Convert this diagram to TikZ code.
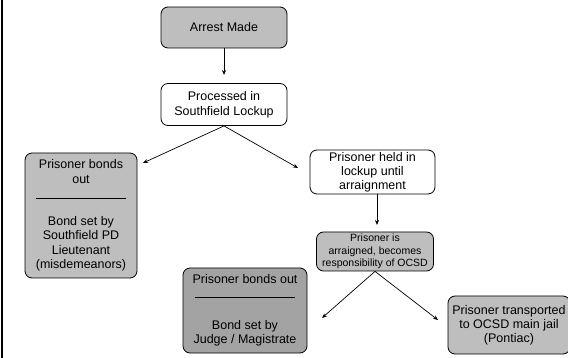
\documentclass[tikz,border=0pt]{standalone}
\usepackage{fontspec}
\setmainfont{Liberation Sans}
\usepackage{tikz}
\usetikzlibrary{arrows.meta}
\definecolor{lightfill}{HTML}{BEBEBE}
\definecolor{darkfill}{HTML}{A3A3A3}

\begin{document}
\begin{tikzpicture}[x=1pt, y=-1pt, >={Stealth[length=5pt,width=4pt]},
  box/.style={draw=black, line width=0.8pt, rounded corners=7pt, fill=white, align=center,
    inner sep=0pt, font=\fontsize{12.5}{14.5}\selectfont},
  greybox/.style={box, fill=lightfill},
  link/.style={->, line width=0.7pt}]
\useasboundingbox (0,0) rectangle (568,358);
\clip (0,0) rectangle (568,358);

% page edge
\draw[line width=1.2pt] (2,0) -- (2,358);

\coordinate (tipProc)  at (224,75);
\coordinate (tipPD)    at (143,163);
\coordinate (tipLock)  at (298,168);
\coordinate (tipArr)   at (377,225);
\coordinate (tipJudge) at (322,318);
\coordinate (tipJail)  at (438,320);

\node[greybox, minimum width=126pt, minimum height=41pt] (arrest) at (224,27.5) {Arrest Made};
\node[box, minimum width=126pt, minimum height=42pt, font=\fontsize{12.5}{15}\selectfont] (processed) at (224,104.5)
  {Processed in\\Southfield Lockup};

\node[greybox, minimum width=112pt, minimum height=125pt] (bondpd) at (81,215.5)
  {Prisoner bonds\\out\\[4pt]\rule[3pt]{90pt}{0.7pt}\\[9pt]Bond set by\\Southfield PD\\Lieutenant\\(misdemeanors)};

\node[box, minimum width=125pt, minimum height=44pt, font=\fontsize{12.5}{14}\selectfont] (lockup) at (372.5,172)
  {Prisoner held in\\lockup until\\arraignment};

\node[greybox, minimum width=117pt, minimum height=39pt, font=\fontsize{10.5}{12.5}\selectfont] (arraigned) at (375,251.5)
  {Prisoner is\\arraigned, becomes\\responsibility of OCSD};

\node[box, fill=darkfill, minimum width=124pt, minimum height=85pt] (bondjudge) at (245,310.5)
  {Prisoner bonds out\\[2pt]\rule[3pt]{100pt}{0.7pt}\\[14.5pt]Bond set by\\Judge / Magistrate};

\node[greybox, minimum width=122pt, minimum height=58pt, font=\fontsize{12.5}{14}\selectfont] (jail) at (509,325)
  {Prisoner transported\\to OCSD main jail\\(Pontiac)};

\draw[link] (arrest) -- (tipProc);
\draw[link] (processed.south) -- (tipPD);
\draw[link] (processed.south) -- (tipLock);
\draw[link] (lockup.south -| tipArr) -- (tipArr);
\draw[link] (arraigned.south) -- (tipJudge);
\draw[link] (arraigned.south) -- (tipJail);
\end{tikzpicture}
\end{document}
